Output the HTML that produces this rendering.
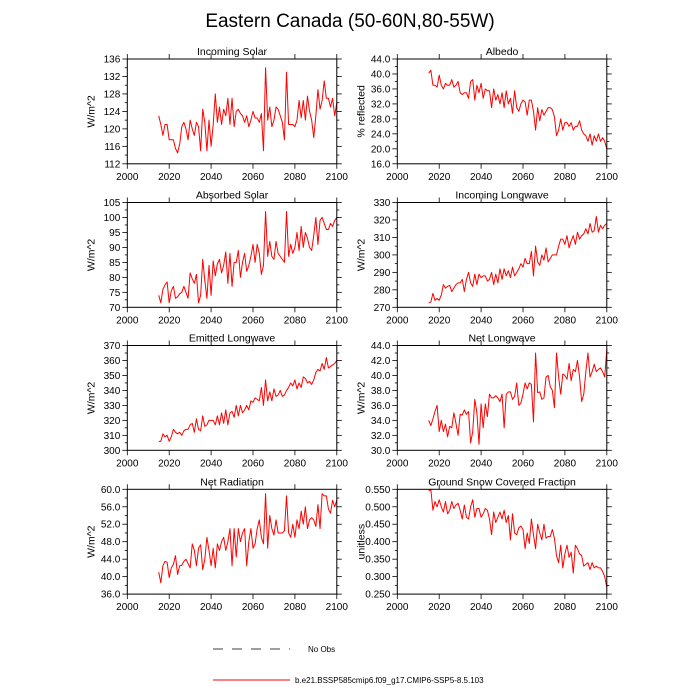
<!DOCTYPE html>
<html><head><meta charset="utf-8"><style>
html,body{margin:0;padding:0;background:#fff;}
svg{display:block;font-family:"Liberation Sans",sans-serif;}
</style></head><body>
<svg id="chart" width="700" height="700" viewBox="0 0 700 700" xmlns="http://www.w3.org/2000/svg">
<rect width="700" height="700" fill="#fff"/>
<text x="350" y="27" font-size="19" text-anchor="middle">Eastern Canada (50-60N,80-55W)</text>
<g>
<line x1="213" y1="649" x2="290" y2="649" stroke="#000" stroke-width="0.8" stroke-dasharray="10,9"/>
<text x="308" y="652" font-size="8">No Obs</text>
<line x1="213" y1="680" x2="290" y2="680" stroke="#f00" stroke-width="1"/>
<text x="295" y="683" font-size="8">b.e21.BSSP585cmip6.f09_g17.CMIP6-SSP5-8.5.103</text>
</g>
<g id="panels"></g>
</svg>
<script>
const startYear = 2015;
const xTicks = [2000,2020,2040,2060,2080,2100];
const incomingSolar = [123,121,118.5,121,121,117.5,117.5,117.5,115.5,114.5,
116.5,120.5,121.5,120,117.5,122,120,118.5,121.5,120.5,
115,124.5,121.5,115,122,116,121,128,121.5,125,
121,124.5,123,127,121,127,120.5,124,124.5,123.5,
123,121.5,123,120.5,122,124,122.5,122.5,121.5,123.5,115,
134,122,125,120.5,122,125,124.5,123,121.5,117.5,
133,121,121,121,120.5,122,126.5,122.5,126.5,122,
127.5,124,122,118,123,129,124.5,126.5,131,127,
127,125,127,123,126];
const albedo = [40.2,41,37,37,36.5,39.7,37,36,37.5,37,
37,38.5,36.5,37,38,35,34.5,35,35,33.5,
38,38.5,33,37,35,37.5,33.5,36,35.5,35.5,
31,36,33,34.5,32,35,31,35.5,32,33.5,
29.5,35.5,31,30,32,33,32.5,29,33,33,
30,25,31,27.5,30.5,29,30,31,31,30.5,
28.5,23.5,25,28,25,27,27,26,27,25,
26,26,27.5,25,24,23.5,22,24,21,23.5,
22,24,22,23,22,20];
const absorbedSolar = [74,71.5,76,77.5,78.5,71.5,75.5,77,73,73.5,
74.5,75,77,75,73,81.5,79.5,78,81,71.5,
74,86,79,73,84,74,85.5,80.5,84.5,86,
81.5,84,88.5,78,88,77,85,85,89,80,
85,88,82,84,87,91,85,91,88,81,
84,102,87,92,87,86,92,88,87,86,
85,102,87,91,88,90,95,89,97,90,
95,93,90,89,94,100,91,99,100,98,
96,96,98,97,99,100];
const incomingLongwave = [272.5,273,278,274,275,274,277,283,281,282,
282.5,279,281,283,284,284,286,279,286,290,
284,282,289,283,289,287,288,288,285,286,
290,283,289,284,292,286,292,288,291,287,
293,288,290,292,295,293,298,295,295,302,
288,305,296,294,300,297,304,296,298,300,
300,300,305,309,309,306,311,304,308,311,
306,313,309,311,312,315,312,318,313,314,
322,313,317,315,317,318];
const emittedLongwave = [306,306,311,309,310,306,309,314,312,311,
312,310,313,314,314,317,318,312,321,314,
313,323,316,317,320,320,320,317,323,317,
325,318,327,317,325,326,322,330,323,330,
325,327,330,327,333,332,335,334,333,342,
330,347,333,339,333,341,336,337,340,336,
337,340,342,345,343,347,341,345,342,349,
348,345,346,344,347,352,354,353,358,354,
362,355,356,357,358,360];
const netLongwave = [34,33.3,34.2,35.2,36,32.5,34,32.5,33.5,31.8,
33.2,33,35,33.6,32,34.8,34.7,35.4,34.8,35.2,
31,32.5,36.8,35,30.8,36.2,33,36.2,34.5,37.5,
37,37,37.3,37,36.5,37.5,33,37.5,37.8,37.8,
36.8,37.2,39,36,36.3,37.5,39,38.2,39,38.8,
33.8,43,37.7,37.8,36.8,37,39.8,40,38.5,38,
35.7,43,39.8,37.5,40.2,40,39.5,41.6,39.3,40.8,
40.5,42,39.8,36.5,37.5,40.5,43,39.8,40.5,41.5,
40.5,40.8,41,40.5,39.8,43.5];
const netRadiation = [41,38.6,42.5,43.5,43.3,39.8,42,42.8,44.8,40.5,
42.5,42.6,43.5,44,43,42,47.5,46,42.5,46.5,
47.3,41.6,44,49,46,42.5,46.5,42,47.5,46,
48,49,46,48,51,42.5,51,44.5,51,48,
50,51,42.5,48,51,46.5,47.5,51,53,49,
47.5,59,46.5,54,51,49.5,53,50,50,50,
50.5,58.5,50,49,52,49,53,51,55,52,
56,51,53,53.5,53,51.5,56.5,51,59,58.5,
58.5,55.5,54.5,57.5,56,57.5];
const snowFraction = [0.545,0.55,0.49,0.515,0.5,0.52,0.5,0.485,0.515,0.48,
0.49,0.515,0.495,0.505,0.51,0.49,0.465,0.505,0.47,0.465,
0.5,0.52,0.47,0.495,0.495,0.47,0.48,0.495,0.49,0.465,
0.42,0.485,0.455,0.47,0.485,0.465,0.49,0.455,0.475,0.405,
0.48,0.425,0.42,0.44,0.445,0.435,0.38,0.425,0.395,0.465,
0.42,0.38,0.45,0.425,0.405,0.45,0.41,0.415,0.415,0.435,
0.41,0.36,0.34,0.39,0.325,0.365,0.39,0.355,0.37,0.31,
0.39,0.38,0.365,0.36,0.33,0.335,0.34,0.32,0.34,0.325,
0.33,0.325,0.325,0.315,0.3,0.27];
const ticksIncomingSolar = [112,116,120,124,128,132,136];
const ticksAlbedo = [16,20,24,28,32,36,40,44];
const ticksAbsorbed = [70,75,80,85,90,95,100,105];
const ticksIncomingLW = [270,280,290,300,310,320,330];
const ticksEmittedLW = [300,310,320,330,340,350,360,370];
const ticksNetLW = [30,32,34,36,38,40,42,44];
const ticksNetRad = [36,40,44,48,52,56,60];
const ticksSnow = [0.25,0.30,0.35,0.40,0.45,0.50,0.55];

const NS="http://www.w3.org/2000/svg";
const root=document.getElementById('panels');
function mk(tag,attrs,parent){const e=document.createElementNS(NS,tag);for(const k in attrs)e.setAttribute(k,attrs[k]);parent.appendChild(e);return e;}

const panels=[
 {title:'Incoming Solar',ytitle:'W/m^2',data:incomingSolar,ticks:ticksIncomingSolar,dec:0,col:0,row:0,slug:'incoming-solar'},
 {title:'Albedo',ytitle:'% reflected',data:albedo,ticks:ticksAlbedo,dec:1,col:1,row:0,slug:'albedo'},
 {title:'Absorbed Solar',ytitle:'W/m^2',data:absorbedSolar,ticks:ticksAbsorbed,dec:0,col:0,row:1,slug:'absorbed-solar'},
 {title:'Incoming Longwave',ytitle:'W/m^2',data:incomingLongwave,ticks:ticksIncomingLW,dec:0,col:1,row:1,slug:'incoming-longwave'},
 {title:'Emitted Longwave',ytitle:'W/m^2',data:emittedLongwave,ticks:ticksEmittedLW,dec:0,col:0,row:2,slug:'emitted-longwave'},
 {title:'Net Longwave',ytitle:'W/m^2',data:netLongwave,ticks:ticksNetLW,dec:1,col:1,row:2,slug:'net-longwave'},
 {title:'Net Radiation',ytitle:'W/m^2',data:netRadiation,ticks:ticksNetRad,dec:1,col:0,row:3,slug:'net-radiation'},
 {title:'Ground Snow Covered Fraction',ytitle:'unitless',data:snowFraction,ticks:ticksSnow,dec:3,col:1,row:3,slug:'snow-fraction'}
];
const colX=[127.3,397.3], W=209.5, rowY=[59,202.5,345.5,489.3], H=104.8;

panels.forEach(p=>{
 const L=colX[p.col], T=rowY[p.row], R=L+W, B=T+H;
 const y0=p.ticks[0], y1=p.ticks[p.ticks.length-1];
 const xs=v=>L+(v-2000)/100*W;
 const ys=v=>B-(v-y0)/(y1-y0)*H;
 const g=mk('g',{},root);
 
 
 const t=mk('text',{x:(L+R)/2,y:T-4,'font-size':10.5,'text-anchor':'middle'},g);
 t.textContent=p.title;
 
 
 const yt=mk('text',{x:L-33,y:(T+B)/2,'font-size':10.5,'text-anchor':'middle',transform:`rotate(-90 ${L-33} ${(T+B)/2})`},g);
 yt.textContent=p.ytitle;
 
 
 xTicks.forEach(v=>{
  const x=xs(v);
  mk('line',{x1:x,y1:B,x2:x,y2:B+5,stroke:'#000','stroke-width':0.8},g);
  mk('line',{x1:x,y1:T,x2:x,y2:T-5,stroke:'#000','stroke-width':0.8},g);
  const lt=mk('text',{x:x,y:B+16,'font-size':10,'text-anchor':'middle'},g);
  lt.textContent=v;
  
  
 });
 const step=p.ticks[1]-p.ticks[0];
 p.ticks.forEach((v,i)=>{
  const y=ys(v);
  mk('line',{x1:L,y1:y,x2:L-5,y2:y,stroke:'#000','stroke-width':0.8},g);
  mk('line',{x1:R,y1:y,x2:R+5,y2:y,stroke:'#000','stroke-width':0.8},g);
  if(i<p.ticks.length-1){const ym=ys(v+step/2);
   mk('line',{x1:L,y1:ym,x2:L-2.5,y2:ym,stroke:'#000','stroke-width':0.8},g);
   mk('line',{x1:R,y1:ym,x2:R+2.5,y2:ym,stroke:'#000','stroke-width':0.8},g);}
  const lt=mk('text',{x:L-7,y:y+3.5,'font-size':10,'text-anchor':'end'},g);
  lt.textContent=v.toFixed(p.dec);
  
  
 });
 const pts=p.data.map((v,i)=>xs(startYear+i).toFixed(2)+','+ys(v).toFixed(2)).join(' ');
 const line=mk('polyline',{points:pts,fill:'none',stroke:'#f00','stroke-width':1,'stroke-linejoin':'round'},g);
 
 
 const fr=mk('rect',{x:L,y:T,width:W,height:H,fill:'none',stroke:'#000','stroke-width':1},g);
 
 
});
</script>
</body></html>
